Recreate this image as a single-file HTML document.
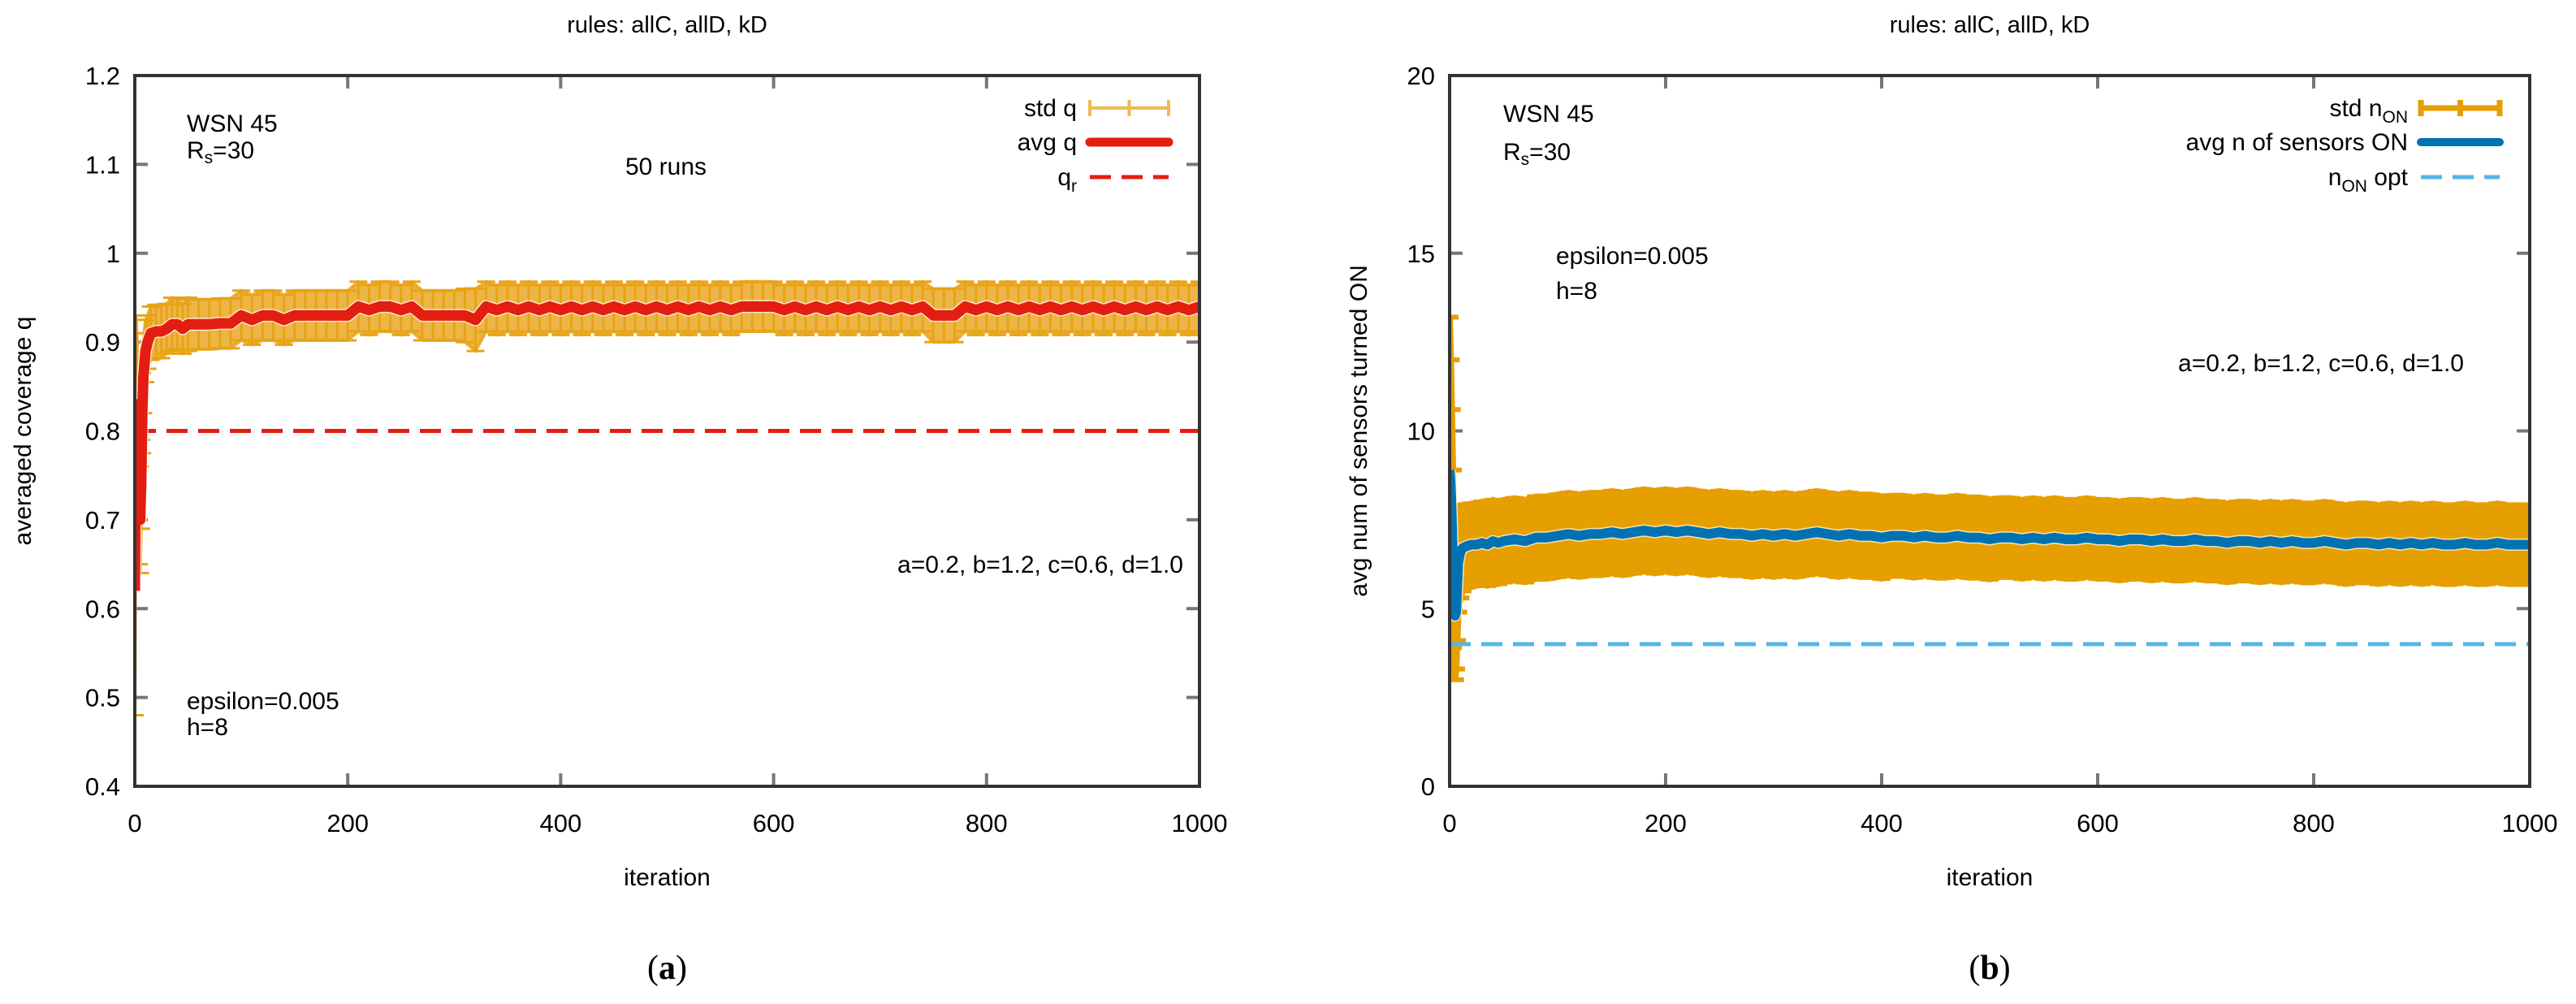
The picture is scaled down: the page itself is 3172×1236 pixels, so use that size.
<!DOCTYPE html>
<html><head><meta charset="utf-8"><style>
html,body{margin:0;padding:0;background:#fff;}
svg{display:block;font-family:"Liberation Sans",sans-serif;}
</style></head><body>
<svg id="fig" width="3172" height="1236" viewBox="0 0 3172 1236" xmlns="http://www.w3.org/2000/svg">
<rect x="0" y="0" width="3172" height="1236" fill="#fff"/>
<g id="pa"></g>
<g id="pb"></g>
</svg>
<script>
// shared iteration axis (sampled)
const iters = [0,1,2,3,4,5,6,7,8,10,12,15,20,25,30,35,40,45,50,60,70,80,90,
100,110,120,130,140,150,160,170,180,190,200,210,220,230,240,250,260,270,280,290,300,
310,320,330,340,350,360,370,380,390,400,410,420,430,440,450,460,470,480,490,500,
510,520,530,540,550,560,570,580,590,600,610,620,630,640,650,660,670,680,690,700,
710,720,730,740,750,760,770,780,790,800,810,820,830,840,850,860,870,880,890,900,
910,920,930,940,950,960,970,980,990,1000];
// panel (a): averaged coverage q
const avgQ = [0.62,0.83,0.82,0.78,0.72,0.70,0.74,0.82,0.86,0.89,0.90,0.91,0.912,0.912,0.915,0.92,0.92,0.915,0.92,0.92,0.92,0.921,0.921,
0.93,0.925,0.93,0.93,0.925,0.93,0.93,0.93,0.93,0.93,0.93,0.94,0.936,0.94,0.94,0.936,0.94,0.93,0.93,0.93,0.93,
0.93,0.925,0.94,0.936,0.94,0.936,0.94,0.936,0.94,0.936,0.94,0.936,0.94,0.936,0.94,0.936,0.94,0.936,0.94,0.936,
0.94,0.936,0.94,0.936,0.94,0.936,0.94,0.94,0.94,0.94,0.936,0.94,0.936,0.94,0.936,0.94,0.936,0.94,0.936,0.94,
0.936,0.94,0.936,0.94,0.93,0.93,0.93,0.94,0.936,0.94,0.936,0.94,0.936,0.94,0.936,0.94,0.936,0.94,0.936,0.94,
0.936,0.94,0.936,0.94,0.936,0.94,0.936,0.94,0.936,0.94];
const stdQ = [0.14,0.10,0.09,0.08,0.07,0.06,0.05,0.045,0.04,0.035,0.03,0.03,0.03,0.03,0.028,0.03,0.028,0.028,0.03,0.028,0.028,0.028,0.028,
0.028,0.028,0.028,0.028,0.028,0.028,0.028,0.028,0.028,0.028,0.028,0.028,0.028,0.028,0.028,0.028,0.028,0.028,0.028,0.028,0.028,
0.03,0.035,0.028,0.028,0.028,0.028,0.028,0.028,0.028,0.028,0.028,0.028,0.028,0.028,0.028,0.028,0.028,0.028,0.028,0.028,
0.028,0.028,0.028,0.028,0.028,0.028,0.028,0.028,0.028,0.028,0.028,0.028,0.028,0.028,0.028,0.028,0.028,0.028,0.028,0.028,
0.028,0.028,0.028,0.028,0.03,0.03,0.03,0.028,0.028,0.028,0.028,0.028,0.028,0.028,0.028,0.028,0.028,0.028,0.028,0.028,
0.028,0.028,0.028,0.028,0.028,0.028,0.028,0.028,0.028,0.028];
const qRef = [0.8];
const yTicksA = [0.4,0.5,0.6,0.7,0.8,0.9,1,1.1,1.2];
const yTickLabelsA = ["0.4","0.5","0.6","0.7","0.8","0.9","1","1.1","1.2"];
// panel (b): number of sensors ON
const avgN = [8.9,8.5,7.6,6.4,5.3,4.8,4.9,5.6,6.3,6.6,6.7,6.75,6.8,6.8,6.85,6.8,6.9,6.85,6.9,6.95,6.9,7.0,7.0,
7.05,7.1,7.05,7.1,7.1,7.15,7.1,7.15,7.2,7.15,7.2,7.15,7.2,7.15,7.1,7.15,7.1,7.1,7.05,7.1,7.05,
7.1,7.05,7.1,7.15,7.1,7.05,7.1,7.05,7.05,7.0,7.05,7.05,7.0,7.05,7.0,7.0,7.05,7.0,7.0,6.95,
7.0,7.0,6.95,7.0,6.95,7.0,6.95,6.95,7.0,6.95,6.95,6.9,6.95,6.95,6.9,6.95,6.9,6.9,6.95,6.9,
6.9,6.85,6.9,6.9,6.85,6.9,6.85,6.9,6.85,6.85,6.9,6.85,6.8,6.85,6.85,6.8,6.85,6.8,6.85,6.8,
6.85,6.8,6.8,6.85,6.8,6.8,6.85,6.8,6.8,6.8];
const stdN = [4.3,3.5,3.0,2.5,2.0,1.8,1.6,1.5,1.4,1.3,1.2,1.15,1.15,1.15,1.15,1.15,1.15,1.15,1.15,1.15,1.15,1.15,1.15,
1.15,1.15,1.15,1.15,1.15,1.15,1.15,1.15,1.15,1.15,1.15,1.15,1.15,1.15,1.15,1.15,1.15,1.15,1.15,1.15,1.15,
1.15,1.15,1.15,1.15,1.15,1.15,1.15,1.15,1.15,1.15,1.12,1.12,1.12,1.12,1.12,1.12,1.12,1.12,1.12,1.12,
1.1,1.1,1.1,1.1,1.1,1.1,1.1,1.1,1.1,1.1,1.1,1.1,1.1,1.1,1.1,1.1,1.1,1.1,1.1,1.1,
1.1,1.1,1.1,1.1,1.1,1.1,1.1,1.1,1.1,1.1,1.1,1.1,1.1,1.1,1.1,1.1,1.1,1.1,1.1,1.1,
1.1,1.1,1.1,1.1,1.1,1.1,1.1,1.1,1.1,1.1];
const nOpt = [4];
const yTicksB = [0,5,10,15,20];
const yTickLabelsB = ["0","5","10","15","20"];
const xTicks = [0,200,400,600,800,1000];
const xTickLabels = ["0","200","400","600","800","1000"];

const NS = "http://www.w3.org/2000/svg";
function mk(parent, tag, attrs, text) {
  const e = document.createElementNS(NS, tag);
  for (const k in attrs) e.setAttribute(k, attrs[k]);
  if (text !== undefined) e.textContent = text;
  parent.appendChild(e);
  return e;
}
function txt(parent, x, y, s, anchor, size, name) {
  const t = mk(parent, 'text', {x:x, y:y, 'font-size':size||30, 'text-anchor':anchor||'start', fill:'#000'});
  t.innerHTML = s;
  
  
  return t;
}

function panel(g, o) {
  const L=o.L, R=o.R, T=93, B=968;
  const sx = v => L + (v - 0) / 1000 * (R - L);
  const sy = v => B - (v - o.ymin) / (o.ymax - o.ymin) * (B - T);
  const cx = (L+R)/2;
  txt(g, cx, 40, 'rules: allC, allD, kD', 'middle', 29, 'chart-title');
  o.yt.forEach((v,i) => {
    const y = sy(v);
    const tk = mk(g,'path',{d:`M${L} ${y}h16M${R} ${y}h-16`, stroke:'#777', 'stroke-width':4});
    
    
    txt(g, L-18, y+11, o.ytl[i], 'end', 31, 'y-tick-label');
  });
  xTicks.forEach((v,i) => {
    const x = sx(v);
    const tk = mk(g,'path',{d:`M${x} ${B}v-16M${x} ${T}v16`, stroke:'#777', 'stroke-width':4});
    
    
    txt(g, x, 1024, xTickLabels[i], 'middle', 31, 'x-tick-label');
  });
  txt(g, cx, 1090, 'iteration', 'middle', 30, 'x-axis-title');
  const yl = txt(g, 0, 0, o.ylab, 'middle', 30, 'y-axis-title');
  yl.setAttribute('transform', `translate(${o.ylx},${(T+B)/2}) rotate(-90)`);
  const cap = txt(g, cx, 1205, '(<tspan font-weight="bold">'+o.tag+'</tspan>)', 'middle', 42, 'panel-caption');
  cap.setAttribute('font-family', '"Liberation Serif", serif');

  const clipId = 'clip'+o.tag;
  const cp = mk(g,'clipPath',{id:clipId});
  mk(cp,'rect',{x:L,y:T,width:R-L,height:B-T});
  const dg = mk(g,'g',{'clip-path':`url(#${clipId})`});
  
  
  let up = '', lo = '';
  iters.forEach((it,i) => { up += (i?'L':'M') + sx(it) + ' ' + sy(o.avg[i]+o.std[i]) + ' '; });
  for (let i = iters.length-1; i >= 0; i--) lo += 'L' + sx(iters[i]) + ' ' + sy(o.avg[i]-o.std[i]) + ' ';
  const band = mk(dg,'path',{d:up+lo+'Z', fill:o.bandFill, 'fill-opacity':o.bandOp, stroke:o.bandFill, 'stroke-width':o.bandSw, 'stroke-opacity':o.bandOp});
  
  
  iters.forEach((it,i) => {
    const x = sx(it), y1 = sy(o.avg[i]+o.std[i]), y2 = sy(o.avg[i]-o.std[i]);
    const eb = mk(dg,'path',{d:`M${x} ${y1}V${y2}M${x-11} ${y1}h22M${x-11} ${y2}h22`, stroke:o.bandFill, 'stroke-width':o.ebw, fill:'none'});
    
    
  });
  const ry = sy(o.ref[0]);
  const rl = mk(dg,'path',{d:`M${L} ${ry}H${R}`, stroke:o.refCol, 'stroke-width':5, 'stroke-dasharray':'26 13'});
  
  
  let d = '';
  iters.forEach((it,i) => { d += (i?'L':'M') + sx(it) + ' ' + sy(o.avg[i]) + ' '; });
  const halo = mk(dg,'path',{d:d, stroke:'#fff', 'stroke-width':o.lw+3, fill:'none', 'stroke-linejoin':'round', 'stroke-opacity':0.7});
  
  
  const al = mk(dg,'path',{d:d, stroke:o.avgCol, 'stroke-width':o.lw, fill:'none', 'stroke-linejoin':'round'});
  
  
  const fr = mk(g,'rect',{x:L,y:T,width:R-L,height:B-T,fill:'none',stroke:'#333','stroke-width':4});
  
  
  const lt = o.legTextR, l1 = o.legLineL, l2 = o.legLineL+97;
  const rows = [133,175,218];
  txt(g, lt, rows[0]+10, o.leg[0], 'end', 30, 'legend-label-std');
  const le1 = mk(g,'path',{d:`M${l1} ${rows[0]}H${l2}M${l1} ${rows[0]-10}v20M${(l1+l2)/2} ${rows[0]-10}v20M${l2} ${rows[0]-10}v20`, stroke:o.bandFill, 'stroke-width':o.legEbw, fill:'none', 'stroke-opacity':o.bandOp<1?0.75:1});
  
  
  txt(g, lt, rows[1]+10, o.leg[1], 'end', 30, 'legend-label-avg');
  const le2 = mk(g,'path',{d:`M${l1} ${rows[1]}H${l2}`, stroke:o.avgCol, 'stroke-width':o.lw-2, 'stroke-linecap':'round'});
  
  
  txt(g, lt, rows[2]+10, o.leg[2], 'end', 30, 'legend-label-ref');
  const le3 = mk(g,'path',{d:`M${l1} ${rows[2]}H${l2}`, stroke:o.refCol, 'stroke-width':5, 'stroke-dasharray':'26 13'});
  
  
  o.notes.forEach(n => txt(g, n[0], n[1], n[2], n[3]||'start', 30, n[4]));
}

panel(document.getElementById('pa'), {
  L:166, R:1477, ymin:0.4, ymax:1.2, yt:yTicksA, ytl:yTickLabelsA, tag:'a', ylx:38,
  ylab:'averaged coverage q', avg:avgQ, std:stdQ, ref:qRef,
  bandFill:'#e8a317', bandOp:0.8, bandSw:4, ebw:3, legEbw:4, avgCol:'#e41d12', refCol:'#e41d12', lw:13,
  legTextR:1326, legLineL:1342,
  leg:['std q','avg q','q<tspan font-size="21" dy="8">r</tspan>'],
  notes:[[230,162,'WSN 45','start','annotation-wsn'],
         [230,195,'R<tspan font-size="21" dy="6">s</tspan><tspan dy="-6">=30</tspan>','start','annotation-rs'],
         [820,215,'50 runs','middle','annotation-runs'],
         [1457,705,'a=0.2, b=1.2, c=0.6, d=1.0','end','annotation-params'],
         [230,873,'epsilon=0.005','start','annotation-epsilon'],
         [230,905,'h=8','start','annotation-h']]
});
panel(document.getElementById('pb'), {
  L:1785, R:3115, ymin:0, ymax:20, yt:yTicksB, ytl:yTickLabelsB, tag:'b', ylx:1683,
  ylab:'avg num of sensors turned ON', avg:avgN, std:stdN, ref:nOpt,
  bandFill:'#e69f00', bandOp:1, bandSw:8, ebw:6, legEbw:7, avgCol:'#0072b2', refCol:'#56b4e9', lw:12,
  legTextR:2965, legLineL:2981,
  leg:['std n<tspan font-size="21" dy="8">ON</tspan>','avg n of sensors ON','n<tspan font-size="21" dy="8">ON</tspan><tspan dy="-8"> opt</tspan>'],
  notes:[[1851,150,'WSN 45','start','annotation-wsn'],
         [1851,197,'R<tspan font-size="21" dy="6">s</tspan><tspan dy="-6">=30</tspan>','start','annotation-rs'],
         [1916,325,'epsilon=0.005','start','annotation-epsilon'],
         [1916,368,'h=8','start','annotation-h'],
         [3034,457,'a=0.2, b=1.2, c=0.6, d=1.0','end','annotation-params']]
});
</script>
</body></html>
